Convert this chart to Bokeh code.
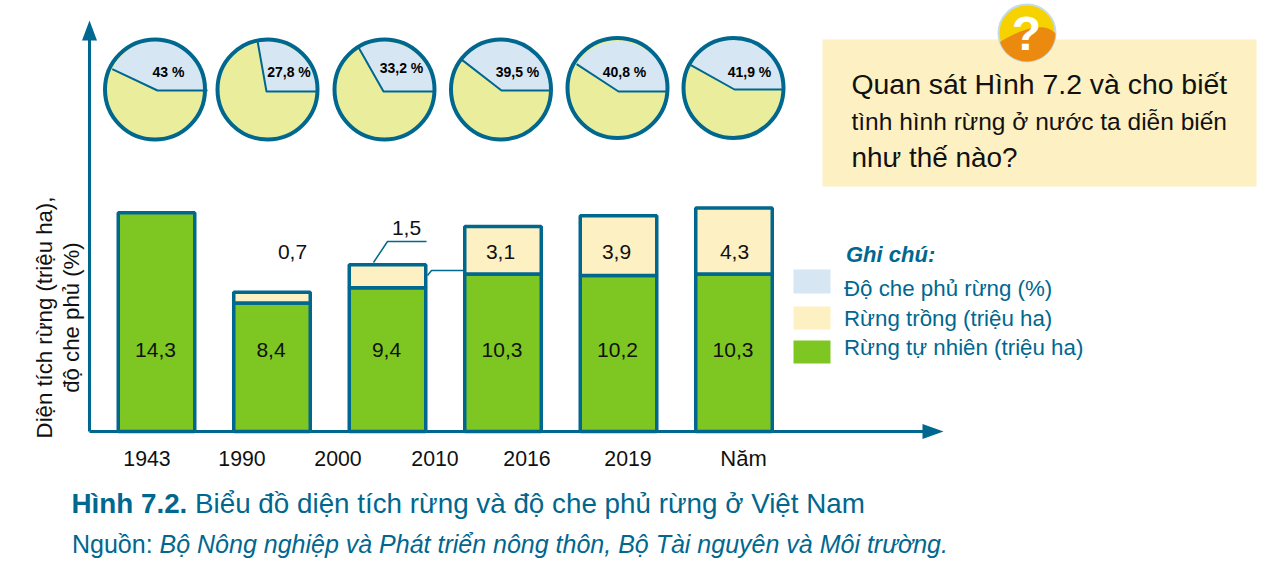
import math
import numpy as np
from bokeh.core.properties import value
from bokeh.embed import file_html
from bokeh.models import Range1d
from bokeh.plotting import figure
from bokeh.resources import INLINE

# ---- data ----
bar_years = ["1943", "1990", "2000", "2010", "2016", "2019"]
natural_forest = [14.3, 8.4, 9.4, 10.3, 10.2, 10.3]
planted_forest = [0.0, 0.7, 1.5, 3.1, 3.9, 4.3]
cover_percent = [43.0, 27.8, 33.2, 39.5, 40.8, 41.9]
natural_labels = ["14,3", "8,4", "9,4", "10,3", "10,2", "10,3"]
planted_labels = ["0,7", "1,5", "3,1", "3,9", "4,3"]
cover_labels = ["43 %", "27,8 %", "33,2 %", "39,5 %", "40,8 %", "41,9 %"]
axis_labels = bar_years + ["Năm"]
legend_labels = ["Độ che phủ rừng (%)", "Rừng trồng (triệu ha)", "Rừng tự nhiên (triệu ha)"]

# ---- layout (canvas pixels) ----
W, H = 1262, 562
BASE_Y, PX_PER_HA = 431, 15.3
SLOT0, SLOT_W, BAR_W = 156, 115.5, 76.5
DARK = "#00678f"; BLUE = "#d6e6f2"; PIEY = "#eaee9c"; CREAM = "#fdf0c2"; GREEN = "#7ec622"
FONT = value("Liberation Sans")

p = figure(width=W, height=H, x_range=Range1d(0, W), y_range=Range1d(H, 0),
           output_backend="svg", toolbar_location=None, x_axis_location=None,
           y_axis_location=None, min_border=0)
p.outline_line_color = None
p.grid.visible = False
p.background_fill_color = "white"
p.extra_x_ranges = {"slot": Range1d(-SLOT0 / SLOT_W, (W - SLOT0) / SLOT_W)}
p.extra_y_ranges = {"ha": Range1d(-(H - BASE_Y) / PX_PER_HA, BASE_Y / PX_PER_HA)}


def txt(x, y, s, size, color="#111111", align="left", style="normal", angle=0):
    # x, y give the text baseline as measured on the reference
    if angle:
        x = x - 0.36 * size
    else:
        y = y - 0.36 * size
    p.text([x], [y], text=[s], text_font=FONT, text_font_size=f"{size}px", text_color=color,
           text_align=align, text_baseline="alphabetic", text_font_style=style, angle=angle)


# ---- bars ----
slots = list(range(len(bar_years)))
totals = [a + b for a, b in zip(natural_forest, planted_forest)]
bw = BAR_W / SLOT_W
p.vbar(x=slots, bottom=0, top=natural_forest, width=bw, fill_color=GREEN, line_color=DARK,
       line_width=3.5, x_range_name="slot", y_range_name="ha")
p.vbar(x=slots[1:], bottom=natural_forest[1:], top=totals[1:], width=bw, fill_color=CREAM,
       line_color=DARK, line_width=3.5, x_range_name="slot", y_range_name="ha")
for i, s in enumerate(natural_labels):
    txt(SLOT0 + SLOT_W * i - 1, 357, s, 21, align="center")
for (x, y), s in zip([(292, 259), (406, 235), (500, 259), (616, 259), (734, 259)], planted_labels):
    txt(x, y, s, 21, align="center")

# leader lines
p.line([373, 387, 426], [262, 241, 241], line_color=DARK, line_width=1.5)
p.line([427, 431, 465], [275, 270, 270], line_color=DARK, line_width=1.5)

# ---- pies ----
pie_hub = [(157, 90), (266, 91), (383, 91), (501, 90), (618, 91), (734, 89)]
pie_ring = [(154.5, 89), (267, 89), (384, 89), (500.5, 89), (617, 87.5), (733, 87.5)]
pie_text = [(168, 77), (288.5, 77), (401, 73), (517, 77), (624, 77), (749, 77)]
R = 50
for (hx, hy), (cx, cy), pct, s, (tx, ty) in zip(pie_hub, pie_ring, cover_percent, cover_labels, pie_text):
    a = pct / 100 * 2 * math.pi
    p.circle([cx], [cy], radius=R, fill_color=PIEY, line_color=None)
    p.wedge([hx], [hy], radius=R, start_angle=0, end_angle=a, direction="anticlock",
            fill_color=BLUE, line_color=None)
    p.line([hx + R * math.cos(a), hx, hx + R], [hy - R * math.sin(a), hy, hy],
           line_color=DARK, line_width=2)
    p.circle([cx], [cy], radius=R, fill_color=None, line_color=DARK, line_width=4)
    txt(tx, ty, s, 14, color="#000000", align="center", style="bold")

# ---- axes ----
p.line([89, 89], [431, 38], line_color=DARK, line_width=3)
p.patch([89, 81.5, 96.5], [20, 40, 40], fill_color=DARK, line_color=None)
p.line([89, 924], [431, 431], line_color=DARK, line_width=3)
p.patch([943, 922, 922], [431, 423.5, 438.5], fill_color=DARK, line_color=None)
for x, s in zip([146.5, 241.5, 337.5, 434.5, 526.5, 627.5, 743], axis_labels):
    txt(x, 466, s, 21.3 if s != "Năm" else 22, align="center")
txt(52, 317, "Diện tích rừng (triệu ha),", 22.2, align="center", angle=math.pi / 2)
txt(79, 317, "độ che phủ (%)", 22.2, align="center", angle=math.pi / 2)

# ---- legend ----
p.quad(left=793, right=830, top=269, bottom=293, fill_color=BLUE, line_color=None)
p.quad(left=793, right=830, top=306, bottom=329, fill_color=CREAM, line_color=None)
p.quad(left=793, right=830, top=340, bottom=363, fill_color=GREEN, line_color=None)
txt(845.5, 262, "Ghi chú:", 22, color=DARK, style="bold italic")
for y, s in zip([296, 326, 355], legend_labels):
    txt(843.5, y, s, 22.3, color=DARK)

# ---- caption ----
txt(71, 513, "Hình 7.2.", 27.8, color=DARK, style="bold")
txt(194.5, 513, "Biểu đồ diện tích rừng và độ che phủ rừng ở Việt Nam", 27.8, color=DARK)
txt(71.5, 552, "Nguồn:", 25, color=DARK)
txt(159, 552, "Bộ Nông nghiệp và Phát triển nông thôn, Bộ Tài nguyên và Môi trường.", 25,
    color=DARK, style="italic")

# ---- question box ----
p.quad(left=822, right=1256, top=39, bottom=186, fill_color=CREAM, line_color=None)
txt(851, 94, "Quan sát Hình 7.2 và cho biết", 28.4, color="#111111")
txt(851, 130, "tình hình rừng ở nước ta diễn biến", 24.5, color="#111111")
txt(851, 167, "như thế nào?", 27.9, color="#111111")

# badge
bx, by, br = 1026.5, 32.5, 28.5
p.circle([bx], [by], radius=br, fill_color="#f6d200", line_color="#c5dbe6", line_width=2)
t0, t1 = math.atan2(33 - by, 1055 - bx), math.atan2(42 - by, 998 - bx)
th = np.linspace(t0, t1, 60)
lx, ly = bx + br * np.cos(th), by + br * np.sin(th)
u = np.linspace(0, 1, 30)
ax, ay = lx[-1], ly[-1]
ex, ey = lx[0], ly[0]
qx = (1 - u) ** 2 * ax + 2 * u * (1 - u) * 1040 + u ** 2 * ex
qy = (1 - u) ** 2 * ay + 2 * u * (1 - u) * 17 + u ** 2 * ey
p.patch(list(lx) + list(qx), list(ly) + list(qy), fill_color="#ec8a10", line_color=None)
txt(1026, 50, "?", 48, color="white", align="center", style="bold")

open("out.html", "w").write(file_html(p, INLINE))
